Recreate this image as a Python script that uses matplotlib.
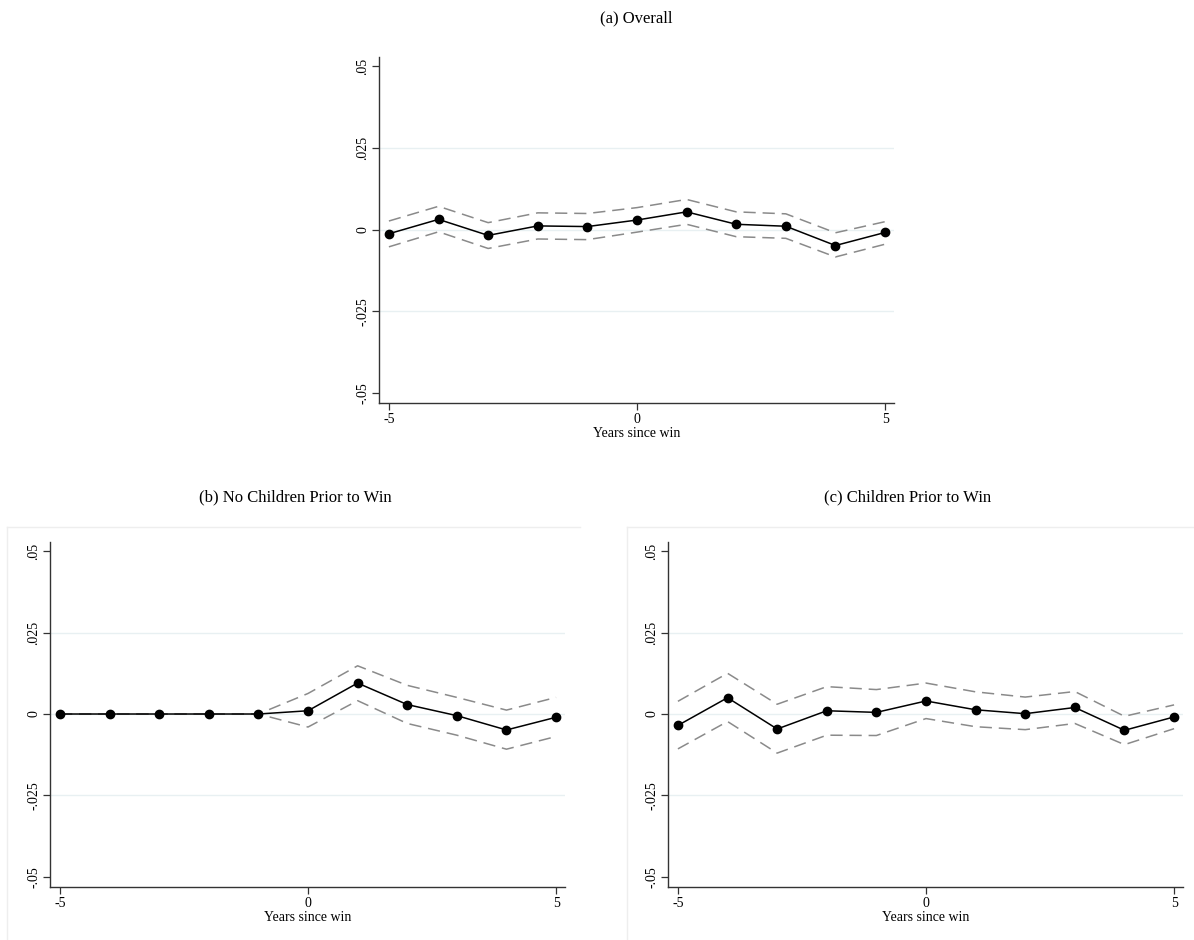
"""Event-study plots: effect by years since win, with 95% CI bands."""

import matplotlib

matplotlib.use("Agg")
import matplotlib.pyplot as plt
from matplotlib.lines import Line2D
import numpy as np

plt.rcParams["font.family"] = ["Liberation Serif", "DejaVu Serif"]

years = [-5, -4, -3, -2, -1, 0, 1, 2, 3, 4, 5]

# (a) Overall
overall_est = [-0.0013, 0.0031, -0.0018, 0.0011, 0.0009, 0.0029, 0.0054, 0.0016, 0.0010, -0.0049, -0.0009]
overall_hi = [0.0026, 0.0071, 0.0021, 0.0051, 0.0049, 0.0067, 0.0092, 0.0054, 0.0048, -0.0010, 0.0024]
overall_lo = [-0.0053, -0.0007, -0.0058, -0.0029, -0.0031, -0.0008, 0.0016, -0.0022, -0.0027, -0.0084, -0.0045]

# (b) No children prior to win
nokids_est = [0.0, 0.0, 0.0, 0.0, 0.0, 0.0010, 0.0095, 0.0029, -0.0005, -0.0049, -0.0010]
nokids_hi = [0.0, 0.0, 0.0, 0.0, 0.0, 0.0063, 0.0148, 0.0088, 0.0051, 0.0012, 0.0051]
nokids_lo = [0.0, 0.0, 0.0, 0.0, 0.0, -0.0040, 0.0041, -0.0029, -0.0065, -0.0108, -0.0069]

# (c) Children prior to win
kids_est = [-0.0035, 0.0050, -0.0046, 0.0010, 0.0005, 0.0040, 0.0013, 0.0001, 0.0020, -0.0050, -0.0009]
kids_hi = [0.0039, 0.0125, 0.0030, 0.0084, 0.0075, 0.0095, 0.0068, 0.0052, 0.0069, -0.0007, 0.0028]
kids_lo = [-0.0107, -0.0023, -0.0120, -0.0065, -0.0066, -0.0014, -0.0039, -0.0048, -0.0029, -0.0094, -0.0045]

yticks = [-0.05, -0.025, 0, 0.025, 0.05]
ytick_labels = ["-.05", "-.025", "0", ".025", ".05"]
xticks = [-5, 0, 5]

W, H = 1194, 940


def px_axes(fig, left, top, right, bottom):
    return fig.add_axes([left / W, 1 - bottom / H, (right - left) / W, (bottom - top) / H])


def draw_panel(ax, est, hi, lo):
    for y in [-0.025, 0, 0.025]:
        ax.axhline(y, color="#e8f0f2", linewidth=1.0, zorder=0)
    ax.plot(years, hi, color="#8a8a8a", linewidth=1.1, dashes=(8, 4.5), zorder=2)
    ax.plot(years, lo, color="#8a8a8a", linewidth=1.1, dashes=(8, 4.5), zorder=2)
    ax.plot(years, est, color="black", linewidth=1.1, marker="o", markersize=6,
            zorder=3)

    ax.set_xlim(-5.2, 5.18)
    ax.set_ylim(-0.0531, 0.0528)
    ax.set_xticks(xticks)
    ax.set_xticklabels([str(x) for x in xticks])
    ax.set_yticks(yticks)
    ax.set_yticklabels(ytick_labels, rotation=90, va="center")
    ax.tick_params(axis="both", direction="out", length=5, width=0.9,
                   color="#333333", labelsize=10, pad=2)
    for side in ["top", "right"]:
        ax.spines[side].set_visible(False)
    for side in ["left", "bottom"]:
        ax.spines[side].set_color("#333333")
        ax.spines[side].set_linewidth(1.0)
    ax.set_xlabel("Years since win", fontsize=10, labelpad=1)


fig = plt.figure(figsize=(W / 100, H / 100), dpi=100)

# light panel frames (top and left edges) around the two lower graphs
frame_top = 1 - 527 / H
for x0, x1 in [(7, 580), (627, 1194)]:
    fig.lines.append(Line2D([x0 / W, x1 / W], [frame_top, frame_top],
                            transform=fig.transFigure, color="#eeeeee", linewidth=1.0))
    fig.lines.append(Line2D([x0 / W, x0 / W], [0, frame_top],
                            transform=fig.transFigure, color="#eeeeee", linewidth=1.0))

ax_a = px_axes(fig, 379, 57, 894, 403)
draw_panel(ax_a, overall_est, overall_hi, overall_lo)

ax_b = px_axes(fig, 50, 542, 565, 887)
draw_panel(ax_b, nokids_est, nokids_hi, nokids_lo)

ax_c = px_axes(fig, 668, 542, 1183, 887)
draw_panel(ax_c, kids_est, kids_hi, kids_lo)

fig.text(636 / W, 1 - 18 / H, "(a) Overall", ha="center", va="center", fontsize=12)
fig.text(295 / W, 1 - 497 / H, "(b) No Children Prior to Win", ha="center",
         va="center", fontsize=12)
fig.text(908 / W, 1 - 497 / H, "(c) Children Prior to Win", ha="center",
         va="center", fontsize=12)

fig.savefig("out.png", dpi=100)
